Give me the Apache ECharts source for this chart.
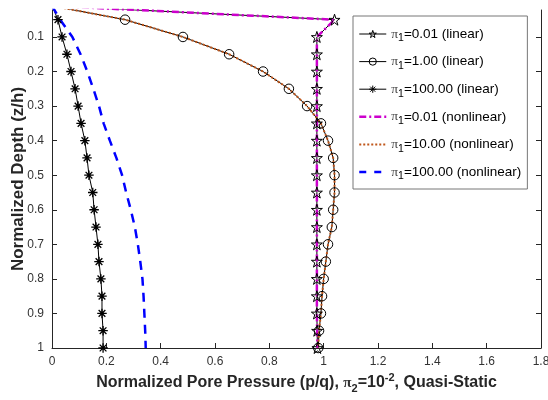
<!DOCTYPE html>
<html>
<head>
<meta charset="utf-8">
<script src="https://cdn.jsdelivr.net/npm/echarts@6/dist/echarts.min.js"></script>
<style>
  html, body { margin: 0; padding: 0; background: #fff; }
  #chart { width: 548px; height: 400px; }
</style>
</head>
<body>
<div id="chart"></div>
<script>
// Normalized depth z/h of every sample (top sample sits just above the visible range)
const depth = [0.01, 0.05, 0.10, 0.15, 0.20, 0.25, 0.30, 0.35, 0.40, 0.45, 0.50,
               0.55, 0.60, 0.65, 0.70, 0.75, 0.80, 0.85, 0.90, 0.95, 1.00];

// Normalized pore pressure p/q, linear model
const pLin001 = [0, 1.04, 0.975, 0.975, 0.975, 0.975, 0.975, 0.975, 0.975, 0.975, 0.975,
                 0.975, 0.975, 0.975, 0.975, 0.975, 0.975, 0.975, 0.975, 0.976, 0.977];
const pLin1   = [0, 0.269, 0.482, 0.652, 0.777, 0.872, 0.939, 0.99, 1.016, 1.035, 1.04,
                 1.04, 1.035, 1.03, 1.016, 1.008, 1.0, 0.994, 0.99, 0.983, 0.98];
const pLin100 = [0, 0.022, 0.037, 0.055, 0.07, 0.085, 0.096, 0.107, 0.121, 0.129, 0.136,
                 0.15, 0.155, 0.162, 0.169, 0.173, 0.18, 0.184, 0.184, 0.188, 0.188];

// Normalized pore pressure p/q, nonlinear model
const pNl001 = [0, 1.04, 0.975, 0.975, 0.975, 0.975, 0.975, 0.975, 0.975, 0.975, 0.975,
                0.975, 0.975, 0.975, 0.975, 0.975, 0.975, 0.975, 0.975, 0.976, 0.977];
const pNl10  = [0, 0.269, 0.482, 0.652, 0.777, 0.872, 0.939, 0.99, 1.016, 1.035, 1.04,
                1.04, 1.035, 1.03, 1.016, 1.008, 1.0, 0.994, 0.99, 0.983, 0.98];
const pNl100 = [0, 0.03, 0.075, 0.105, 0.13, 0.152, 0.173, 0.19, 0.213, 0.237, 0.258,
                0.273, 0.29, 0.305, 0.316, 0.325, 0.333, 0.337, 0.34, 0.343, 0.345];

const seriesNames = [
  'π1=0.01 (linear)', 'π1=1.00 (linear)', 'π1=100.00 (linear)',
  'π1=0.01 (nonlinear)', 'π1=10.00 (nonlinear)', 'π1=100.00 (nonlinear)'
];

const depthTicks = [0.1, 0.2, 0.3, 0.4, 0.5, 0.6, 0.7, 0.8, 0.9, 1.0];

// marker shapes
const STAR = 'path://M0,-100L22.45,-30.9L95.1,-30.9L36.3,11.8L58.8,80.9L0,38.2L-58.8,80.9L-36.3,11.8L-95.1,-30.9L-22.45,-30.9Z';
const ASTERISK = 'path://M0,-100L0,100M-100,0L100,0M-70.7,-70.7L70.7,70.7M-70.7,70.7L70.7,-70.7';

const FONT = '"Liberation Sans", Arial, Helvetica, sans-serif';
const AXIS_COLOR = '#262626';
const HOLLOW = { color: 'rgba(0,0,0,0)', borderColor: '#000', borderWidth: 1 };

function points(p) {
  return depth.map((d, i) => i === 0 ? { value: [p[i], d], symbol: 'none' } : [p[i], d]);
}

function linearSeries(name, p, symbol, size, markerWidth) {
  return {
    name, type: 'line', data: points(p),
    symbol, symbolSize: size, showSymbol: true,
    lineStyle: { color: '#000', width: 1 },
    itemStyle: Object.assign({}, HOLLOW, { borderWidth: markerWidth }),
    emphasis: { disabled: true }, animation: false
  };
}

function nonlinearSeries(name, p, color, width, dash) {
  return {
    name, type: 'line', data: points(p), symbol: 'none',
    lineStyle: { color, width, type: dash },
    itemStyle: { color },
    emphasis: { disabled: true }, animation: false
  };
}

const subRich = {
  p: { fontFamily: '"Liberation Serif", serif', fontSize: 13.5, color: '#444', lineHeight: 20 },
  s: { fontFamily: FONT, fontSize: 10.5, color: '#000', lineHeight: 10, verticalAlign: 'bottom' }
};

// legend entries: thin black line with hollow marker, or bare styled line
const legendData = [
  { name: seriesNames[0], itemStyle: HOLLOW, lineStyle: { color: '#000', width: 1 } },
  { name: seriesNames[1], itemStyle: HOLLOW, lineStyle: { color: '#000', width: 1 } },
  { name: seriesNames[2], itemStyle: HOLLOW, lineStyle: { color: '#000', width: 1 } },
  { name: seriesNames[3], itemStyle: { opacity: 0 }, lineStyle: { color: '#cc00cc', width: 2.5, type: [7, 3, 2, 3] } },
  { name: seriesNames[4], itemStyle: { opacity: 0 }, lineStyle: { color: '#c0561a', width: 2, type: [2, 2] } },
  { name: seriesNames[5], itemStyle: { opacity: 0 }, lineStyle: { color: '#0000ff', width: 2.5, type: [7, 8] } }
];

const chart = echarts.init(document.getElementById('chart'), null, { renderer: 'canvas' });

chart.setOption({
  animation: false,
  backgroundColor: '#fff',
  grid: { left: 52, right: 7, top: 10, bottom: 52, containLabel: false, outerBoundsMode: 'none' },
  xAxis: {
    type: 'value', min: 0, max: 1.8, interval: 0.2,
    name: 'Normalized Pore Pressure (p/q), {p|π}{s|2}=10{u|-2}, Quasi-Static',
    nameLocation: 'middle', nameGap: 24, nameMoveOverlap: false,
    nameTextStyle: {
      fontFamily: FONT, fontSize: 16, fontWeight: 'bold', color: '#262626', lineHeight: 22,
      rich: {
        p: { fontFamily: '"Liberation Serif", serif', fontSize: 15, color: '#333', lineHeight: 22 },
        s: { fontFamily: FONT, fontSize: 11, fontWeight: 'bold', color: '#262626', lineHeight: 11, verticalAlign: 'bottom' },
        u: { fontFamily: FONT, fontSize: 11, fontWeight: 'bold', color: '#262626', lineHeight: 11, verticalAlign: 'top' }
      }
    },
    axisLine: { show: true, lineStyle: { color: AXIS_COLOR, width: 1 } },
    axisTick: { show: true, inside: true, length: 5, lineStyle: { color: AXIS_COLOR } },
    axisLabel: { fontFamily: FONT, fontSize: 12, color: '#333', margin: 8 },
    splitLine: { show: false }
  },
  yAxis: [{
    type: 'value', inverse: true, min: 0.022, max: 1,
    name: 'Normalized Depth (z/h)',
    nameLocation: 'middle', nameGap: 25, nameMoveOverlap: false,
    nameTextStyle: { fontFamily: FONT, fontSize: 17, fontWeight: 'bold', color: '#262626' },
    axisLine: { show: true, lineStyle: { color: AXIS_COLOR, width: 1 } },
    axisTick: { show: true, inside: true, length: 5, customValues: depthTicks, lineStyle: { color: AXIS_COLOR } },
    axisLabel: {
      fontFamily: FONT, fontSize: 12, color: '#333', margin: 8,
      customValues: depthTicks, formatter: v => String(+v.toFixed(1))
    },
    splitLine: { show: false }
  }, {
    type: 'value', inverse: true, min: 0.022, max: 1, position: 'right',
    axisLine: { show: true, onZero: false, lineStyle: { color: AXIS_COLOR, width: 1 } },
    axisTick: { show: true, inside: true, length: 5, customValues: depthTicks, lineStyle: { color: AXIS_COLOR } },
    axisLabel: { show: false },
    splitLine: { show: false }
  }],
  legend: {
    orient: 'vertical', left: 353, top: 16,
    padding: [8, 6, 7, 5],
    itemGap: 7.6,
    itemWidth: 27, itemHeight: 9,
    backgroundColor: '#fff', borderColor: '#777', borderWidth: 1, borderRadius: 0,
    selectedMode: false,
    data: legendData,
    formatter: name => name.replace('π1', '{p|π}{s|1}'),
    textStyle: { fontFamily: FONT, fontSize: 13.5, color: '#000', lineHeight: 20, rich: subRich }
  },
  series: [
    linearSeries(seriesNames[0], pLin001, STAR, 11, 1),
    linearSeries(seriesNames[1], pLin1, 'circle', 9.5, 1),
    linearSeries(seriesNames[2], pLin100, ASTERISK, 9.5, 1.3),
    nonlinearSeries(seriesNames[3], pNl001, '#cc00cc', 2.5, [7, 3, 2, 3]),
    nonlinearSeries(seriesNames[4], pNl10, '#c0561a', 2, [2, 2]),
    nonlinearSeries(seriesNames[5], pNl100, '#0000ff', 2.5, [9, 7])
  ]
});
</script>
</body>
</html>
